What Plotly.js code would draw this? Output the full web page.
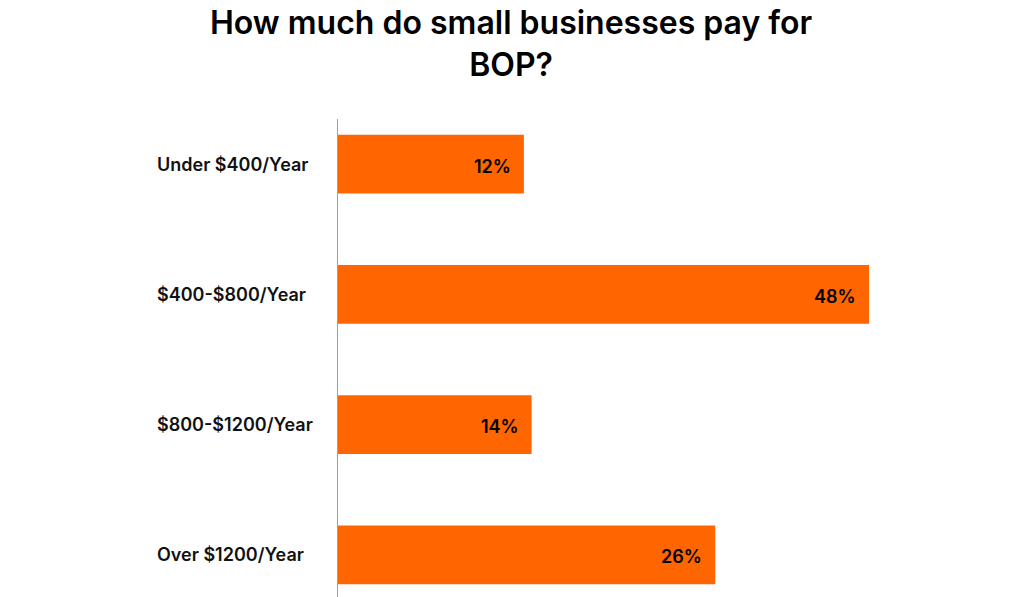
<!DOCTYPE html>
<html>
<head>
<meta charset="utf-8">
<script src="https://cdn.plot.ly/plotly-3.0.1.min.js"></script>
<style>html,body{margin:0;padding:0;background:#fff;}#chart{width:1024px;height:597px;}</style>
</head>
<body>
<div id="chart"></div>
<script>
// Data
const chartTitle = "How much do small businesses pay for<br>BOP?";
const categories = ["Under $400/Year", "$400-$800/Year", "$800-$1200/Year", "Over $1200/Year"];
const shareLabels = ["12%", "48%", "14%", "26%"];
// bar lengths as drawn in the picture (48% bar used as the scale)
const barLength = [16.8, 48, 17.5, 34.1];

const idx = categories.map((c, i) => i);
const FONT = "Inter, 'Open Sans', sans-serif";

const trace = {
  type: "bar",
  orientation: "h",
  x: barLength,
  y: idx,
  marker: {color: "#FF6600"},
  width: 0.45,
  hoverinfo: "skip"
};

const annotations = [];
idx.forEach(i => {
  annotations.push({
    x: barLength[i], y: i, xref: "x", yref: "y",
    text: shareLabels[i], showarrow: false,
    xanchor: "right", yanchor: "middle", xshift: -11, yshift: -2,
    font: {family: FONT, size: 18, color: "#000", weight: 600}
  });
  annotations.push({
    x: 0, y: i, xref: "x", yref: "y",
    text: categories[i], showarrow: false,
    xanchor: "left", yanchor: "middle", xshift: -183,
    font: {family: FONT, size: 18, color: "#111", weight: 600}
  });
});
annotations.push({
  x: 0.252, y: 1.246, xref: "paper", yref: "paper",
  text: chartTitle, showarrow: false,
  xanchor: "center", yanchor: "top", align: "center",
  font: {family: FONT, size: 32, color: "#000", weight: 600}
});

const layout = {
  width: 1024, height: 597,
  paper_bgcolor: "#fff", plot_bgcolor: "#fff",
  margin: {l: 338, r: 0, t: 119, b: 0},
  xaxis: {range: [0, 62.0], visible: false, fixedrange: true},
  yaxis: {
    range: [3.323, -0.346],
    showticklabels: false, showgrid: false, zeroline: false,
    showline: true, linecolor: "#a0a0a0", linewidth: 1,
    ticks: "", fixedrange: true
  },
  showlegend: false,
  annotations: annotations
};

Plotly.newPlot("chart", [trace], layout, {displayModeBar: false, staticPlot: true});
</script>
</body>
</html>
